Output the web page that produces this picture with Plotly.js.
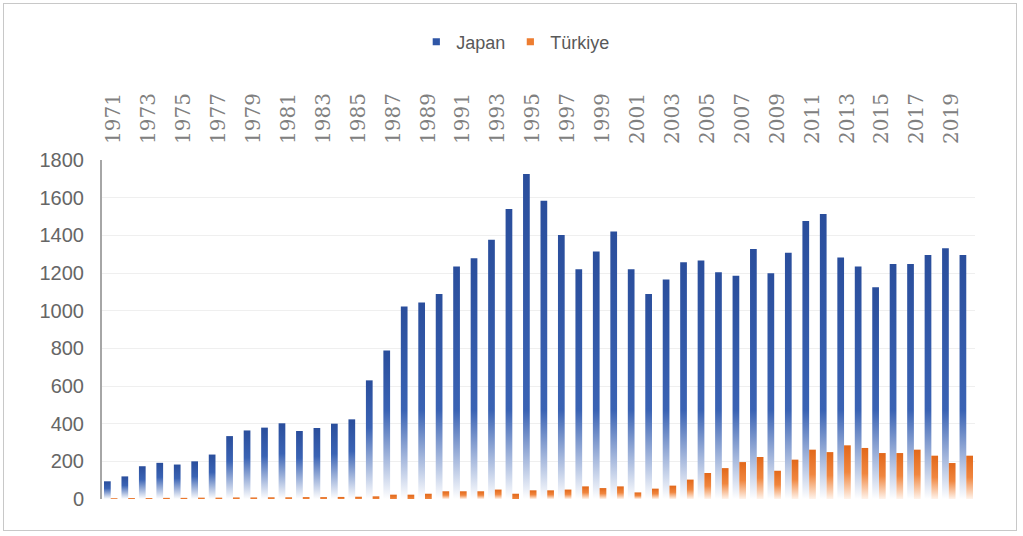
<!DOCTYPE html>
<html>
<head>
<meta charset="utf-8">
<script src="https://cdn.plot.ly/plotly-3.0.1.min.js"></script>
<style>
  html, body { margin: 0; padding: 0; background: #ffffff; }
  #wrap { position: relative; width: 1023px; height: 536px; }
  #chart { width: 1023px; height: 536px; }
  #frame { position: absolute; left: 3px; top: 3px; width: 1014px; height: 528px;
           border: 1px solid #c8c8c8; pointer-events: none; box-sizing: border-box; }
</style>
</head>
<body>
<div id="wrap">
  <div id="chart"></div>
  <div id="frame"></div>
</div>
<script>
const years = [1971,1972,1973,1974,1975,1976,1977,1978,1979,1980,
               1981,1982,1983,1984,1985,1986,1987,1988,1989,1990,
               1991,1992,1993,1994,1995,1996,1997,1998,1999,2000,
               2001,2002,2003,2004,2005,2006,2007,2008,2009,2010,
               2011,2012,2013,2014,2015,2016,2017,2018,2019,2020];

const japan = [94,120,174,192,183,200,236,334,364,379,
               402,361,377,400,423,630,789,1022,1043,1089,
               1234,1278,1376,1540,1726,1584,1402,1220,1314,1420,
               1220,1089,1165,1257,1266,1204,1186,1328,1199,1308,
               1476,1513,1282,1234,1124,1248,1248,1296,1331,1296];

const turkiye = [4,5,5,6,6,7,7,8,8,9,
                 9,10,10,11,12,14,23,23,28,41,
                 41,41,50,28,46,46,50,67,58,67,
                 35,55,71,103,138,164,196,223,150,209,
                 262,249,285,271,244,244,262,230,191,230];

const tickYears = [1971,1973,1975,1977,1979,1981,1983,1985,1987,1989,
                   1991,1993,1995,1997,1999,2001,2003,2005,2007,2009,
                   2011,2013,2015,2017,2019];
const tickLabels = tickYears.map(String);

const yTicks = [0,200,400,600,800,1000,1200,1400,1600,1800];

const seriesNames = ['Japan', 'Türkiye'];
const seriesColors = ['#2f56a6', '#ed7d31'];

const traces = [
  { type: 'bar', name: seriesNames[0], x: years, y: japan,
    marker: { color: seriesColors[0], line: { width: 0 } }, hoverinfo: 'x+y' },
  { type: 'bar', name: seriesNames[1], x: years, y: turkiye,
    marker: { color: seriesColors[1], line: { width: 0 } }, hoverinfo: 'x+y' }
];

const layout = {
  width: 1023, height: 536,
  margin: { l: 102, r: 48, t: 160, b: 37 },
  paper_bgcolor: 'rgba(0,0,0,0)',
  plot_bgcolor: '#ffffff',
  barmode: 'group',
  bargap: 0.23,
  bargroupgap: 0,
  showlegend: true,
  legend: {
    orientation: 'h', x: 0.474, xanchor: 'center', y: 1.348, yanchor: 'middle',
    font: { family: 'Liberation Sans, Arial, sans-serif', size: 18, color: '#595959' },
    itemclick: false, itemdoubleclick: false, traceorder: 'normal'
  },
  xaxis: {
    type: 'linear', side: 'top',
    range: [1970.5, 2020.5],
    tickmode: 'array', tickvals: tickYears, ticktext: tickLabels,
    tickangle: -90,
    ticks: '', ticklabelstandoff: 15, ticklabelshift: 3,
    tickfont: { family: 'DejaVu Serif, serif', size: 20, color: '#808080' },
    showgrid: false, zeroline: false, showline: false, fixedrange: true
  },
  yaxis: {
    range: [0, 1800], tickmode: 'array', tickvals: yTicks,
    ticks: '', ticklabelstandoff: 12,
    tickfont: { family: 'Liberation Sans, Arial, sans-serif', size: 20, color: '#666666' },
    showgrid: true, gridcolor: '#efefef', gridwidth: 1,
    zeroline: false, showline: true, linecolor: '#a6a6a6', linewidth: 2,
    fixedrange: true
  },
  font: { family: 'Liberation Sans, Arial, sans-serif', color: '#595959' }
};

const gd = document.getElementById('chart');
Plotly.newPlot(gd, traces, layout, { staticPlot: true, displayModeBar: false }).then(shade);

function shade() {
  const ns = 'http://www.w3.org/2000/svg';
  const svg = gd.querySelector('svg.main-svg');
  let defs = svg.querySelector('defs');
  if (!defs) { defs = document.createElementNS(ns, 'defs'); svg.insertBefore(defs, svg.firstChild); }
  const ya = gd._fullLayout.yaxis;
  const pxPer = (v) => Math.abs(ya.l2p(0) - ya.l2p(v));
  const specs = [
    { top: '#2a4e9c', mid: '#3a63b4', bot: '#ffffff', fade: (H) => Math.min(H * 0.6, pxPer(470)) },
    { top: '#e2681a', mid: '#f0863f', bot: '#fff4ec', fade: (H) => (H < 6 ? 0 : H * 0.5) }
  ];
  const traceGroups = gd.querySelectorAll('.barlayer .trace');
  traceGroups.forEach((tg, ti) => {
    const sp = specs[ti]; if (!sp) return;
    tg.querySelectorAll('.point path').forEach((p, i) => {
      const bb = p.getBBox();
      const H = bb.height; if (!(H > 0)) return;
      const f = sp.fade(H);
      const s = Math.max(0, 1 - f / H);
      const id = 'g' + ti + '_' + i;
      const g = document.createElementNS(ns, 'linearGradient');
      g.setAttribute('id', id);
      g.setAttribute('x1', '0'); g.setAttribute('y1', '0');
      g.setAttribute('x2', '0'); g.setAttribute('y2', '1');
      const stops = f > 0 ? [[0, sp.top], [s, sp.mid], [1, sp.bot]] : [[0, sp.top], [1, sp.mid]];
      stops.forEach(([o, c]) => {
        const st = document.createElementNS(ns, 'stop');
        st.setAttribute('offset', o);
        st.setAttribute('stop-color', c);
        g.appendChild(st);
      });
      defs.appendChild(g);
      p.style.fill = 'url(#' + id + ')';
    });
  });
  gd.querySelectorAll('.legend .legendpoints path').forEach((p) => {
    const t = p.getAttribute('transform') || '';
    p.setAttribute('transform', t + ' scale(0.6)');
  });
}
</script>
</body>
</html>
